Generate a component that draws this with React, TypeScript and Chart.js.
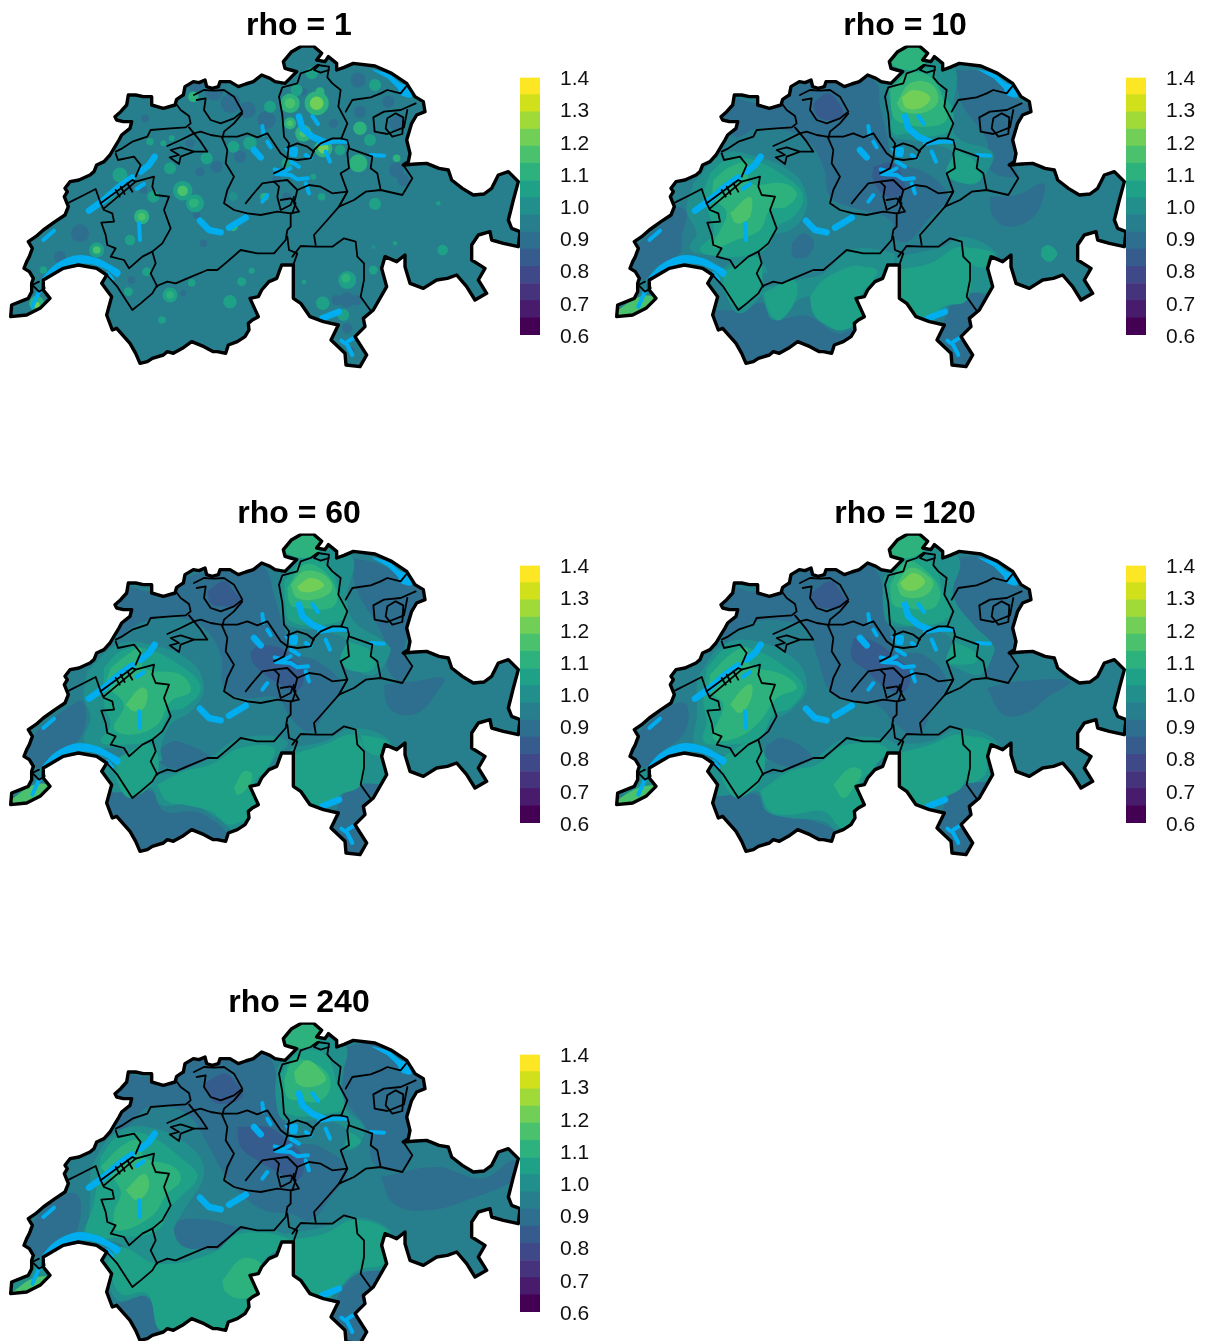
import React, { useEffect, useRef } from "react";
import { Chart, registerables } from "chart.js";

type Pt = number[];
type Band = [number, Pt[]];
type Spot = [number, number, number, number];

// Colour bar: 15 equal bands from 0.6 to 1.4
const viridis = ["#440154", "#481B6D", "#46337E", "#3F4889", "#365C8D", "#2E6E8E", "#277F8E", "#21908C", "#1FA187", "#2DB27D", "#4AC16D", "#71CF57", "#A0DA39", "#D0E11C", "#FDE725"];
const levelEdges = [0.6, 0.6533, 0.7067, 0.76, 0.8133, 0.8667, 0.92, 0.9733, 1.0267, 1.08, 1.1333, 1.1867, 1.24, 1.2933, 1.3467, 1.4];
// Contour id used in the band lists -> fill colour
const contourColors: Record<number, string> = { 4: "#365C8D", 5: "#2E6E8E", 6: "#2E6E8E", 7: "#277F8E", 8: "#21908C", 9: "#1FA187", 10: "#2DB27D", 11: "#4AC16D", 12: "#71CF57" };
const titles = ["rho = 1", "rho = 10", "rho = 60", "rho = 120", "rho = 240"];

// Map geometry in map units
const border: Pt[] = [[88, 715], [76, 695], [60, 685], [68, 665], [76, 650], [85, 625], [73, 605], [95, 590], [118, 570], [153, 545], [183, 525], [193, 500], [181, 470], [190, 455], [183, 445], [198, 425], [225, 420], [258, 405], [270, 395], [278, 375], [300, 365], [318, 345], [333, 320], [345, 300], [353, 285], [378, 265], [383, 245], [358, 245], [338, 240], [333, 230], [350, 215], [368, 195], [373, 165], [395, 165], [418, 170], [443, 170], [443, 195], [460, 200], [478, 205], [513, 195], [518, 178], [530, 170], [538, 165], [543, 140], [568, 125], [585, 128], [603, 120], [608, 140], [625, 145], [643, 140], [648, 125], [678, 125], [703, 140], [725, 132], [748, 125], [773, 105], [798, 115], [813, 125], [843, 130], [878, 95], [860, 90], [843, 85], [838, 65], [863, 35], [893, 18], [928, 18], [953, 40], [938, 60], [963, 65], [973, 50], [998, 70], [998, 90], [1020, 82], [1048, 70], [1113, 78], [1163, 100], [1208, 130], [1233, 170], [1258, 185], [1263, 215], [1238, 225], [1223, 250], [1208, 300], [1218, 340], [1213, 365], [1198, 375], [1235, 372], [1268, 370], [1305, 385], [1333, 390], [1343, 420], [1375, 445], [1408, 465], [1440, 462], [1463, 445], [1483, 405], [1513, 395], [1543, 425], [1528, 480], [1513, 540], [1523, 565], [1548, 575], [1543, 620], [1498, 610], [1463, 600], [1458, 575], [1423, 585], [1403, 615], [1403, 660], [1443, 685], [1423, 720], [1448, 760], [1413, 780], [1388, 740], [1358, 705], [1330, 715], [1298, 720], [1258, 745], [1218, 730], [1203, 680], [1203, 645], [1178, 665], [1143, 650], [1133, 685], [1148, 740], [1108, 810], [1078, 835], [1083, 860], [1053, 890], [1088, 945], [1068, 980], [1026, 975], [1023, 940], [981, 900], [1003, 855], [958, 845], [918, 830], [890, 790], [868, 775], [868, 675], [833, 675], [818, 715], [795, 725], [773, 750], [763, 770], [738, 775], [763, 830], [745, 840], [733, 850], [735, 870], [723, 890], [700, 905], [673, 915], [665, 940], [640, 935], [628, 935], [600, 920], [563, 905], [535, 925], [508, 940], [490, 935], [478, 945], [445, 955], [430, 965], [408, 970], [395, 940], [378, 910], [360, 890], [338, 865], [325, 870], [308, 825], [323, 770], [293, 730], [308, 705], [278, 685], [223, 675], [178, 685], [118, 720], [118, 750], [138, 775], [108, 805], [68, 825], [20, 830], [23, 795], [73, 775], [83, 755], [83, 730]];

const cantonLines: Pt[][] = [
  [[335, 335], [355, 325], [385, 305], [430, 290], [440, 270], [500, 265], [545, 262], [560, 250], [555, 228], [530, 210], [515, 190]],
  [[578, 180], [605, 175], [600, 210], [620, 240], [650, 250], [690, 235], [715, 215], [690, 170], [660, 150], [630, 152], [600, 150], [570, 165]],
  [[715, 220], [690, 250], [660, 275], [655, 295]],
  [[570, 280], [590, 275], [620, 285], [650, 290], [700, 290], [730, 280], [760, 292], [790, 280], [810, 310], [830, 340], [850, 355]],
  [[490, 318], [530, 300], [570, 280], [555, 262]],
  [[570, 280], [590, 305], [610, 335], [570, 335], [530, 322], [500, 330], [525, 345], [497, 352], [525, 372], [530, 350], [570, 335]],
  [[335, 340], [342, 360], [390, 350], [410, 375], [395, 410]],
  [[190, 490], [240, 465], [275, 447], [290, 490], [300, 510], [325, 520], [330, 545], [292, 548], [305, 585], [310, 615], [335, 625], [320, 650], [360, 660], [375, 685], [415, 650], [445, 635], [475, 610], [500, 565], [480, 510], [495, 470], [455, 465], [445, 440], [450, 410], [395, 425], [300, 505]],
  [[290, 490], [385, 420], [395, 425]],
  [[335, 450], [347, 470]],
  [[350, 440], [362, 462]],
  [[370, 430], [385, 455]],
  [[445, 635], [455, 670], [440, 700], [460, 740]],
  [[308, 705], [340, 740], [385, 810], [410, 790], [445, 760], [458, 738], [490, 725], [515, 730], [550, 715], [610, 690], [640, 690], [670, 665], [710, 630], [760, 640], [810, 640], [845, 600], [850, 570], [860, 560], [860, 520], [820, 515], [770, 525], [730, 520], [690, 510], [660, 490], [670, 450], [690, 410], [665, 370], [670, 330], [655, 295]],
  [[850, 590], [855, 630], [880, 640], [868, 675]],
  [[865, 650], [890, 618], [935, 620], [985, 620], [1020, 595], [1055, 605], [1060, 650], [1080, 670], [1080, 720], [1070, 770], [1100, 812]],
  [[935, 615], [930, 585], [970, 540], [1005, 500], [1030, 455], [985, 460], [950, 440], [915, 435], [880, 450], [870, 490], [885, 515], [860, 520]],
  [[725, 490], [745, 465], [775, 430], [810, 425], [825, 440], [820, 470], [830, 510], [860, 495], [870, 470]],
  [[830, 480], [860, 475], [875, 490], [865, 520]],
  [[810, 425], [850, 420], [880, 450]],
  [[850, 355], [855, 310], [840, 290], [835, 225], [825, 170], [835, 142], [880, 130], [890, 100], [920, 90], [940, 75], [975, 80], [970, 112], [985, 130], [1010, 150], [1003, 200], [1030, 250], [1012, 295], [985, 295], [950, 310], [930, 330], [920, 355], [880, 360], [850, 355]],
  [[850, 322], [880, 310], [910, 320], [930, 335]],
  [[850, 355], [840, 385], [810, 400]],
  [[1010, 295], [1030, 300], [1035, 320], [1030, 340], [1035, 385], [1010, 400], [1030, 455], [1005, 500], [1050, 480], [1085, 455], [1130, 450], [1195, 465], [1225, 415], [1198, 375]],
  [[1035, 325], [1105, 350], [1100, 385], [1120, 400], [1130, 450]],
  [[1025, 215], [1045, 180], [1100, 172], [1130, 160], [1150, 150], [1190, 160], [1210, 135]],
  [[1235, 190], [1190, 210], [1140, 215], [1108, 232], [1112, 275], [1150, 282], [1200, 262], [1210, 210]],
  [[1150, 235], [1175, 220], [1198, 232], [1195, 282], [1165, 290], [1145, 265], [1150, 235]],
  [[945, 75], [930, 90], [950, 98], [975, 90]],
  [[105, 725], [85, 735], [105, 755], [122, 745], [118, 725]],
];

const lakeAreas: Pt[][] = [
  [[110, 720], [140, 685], [175, 660], [225, 645], [280, 655], [320, 675], [350, 695], [340, 712], [310, 690], [260, 672], [205, 673], [160, 690], [125, 712]],
  [[1100, 88], [1150, 100], [1190, 130], [1215, 140], [1222, 172], [1190, 165], [1180, 145], [1150, 115]],
  [[840, 325], [880, 322], [878, 350], [860, 350]],
];
const lakeBroad: Pt[][] = [
  [[255, 512], [300, 480], [345, 440], [385, 412]],
  [[410, 395], [435, 375], [452, 350]],
  [[588, 542], [615, 570], [650, 577]],
  [[675, 563], [725, 533]],
  [[750, 330], [770, 352]],
  [[885, 230], [895, 265], [925, 290], [960, 305]],
  [[955, 835], [980, 825], [1005, 815]],
];
const lakeThin: Pt[][] = [
  [[85, 800], [105, 755]],
  [[118, 600], [150, 572]],
  [[405, 550], [408, 600]],
  [[398, 447], [420, 432]],
  [[790, 305], [800, 322]],
  [[775, 258], [778, 285]],
  [[812, 388], [840, 395], [860, 385]],
  [[815, 402], [860, 405], [880, 418], [912, 415]],
  [[905, 345], [920, 355]],
  [[860, 365], [885, 380]],
  [[905, 430], [915, 460]],
  [[775, 485], [790, 465]],
  [[925, 228], [942, 252]],
  [[945, 312], [990, 305], [1030, 305]],
  [[965, 335], [978, 365]],
  [[1100, 345], [1140, 347]],
  [[1012, 902], [1030, 915], [1045, 945]],
  [[1030, 905], [1050, 893]],
  [[310, 700], [325, 718]],
];

// Panel rho = 1: x, y, size, contour id
const spotsRho1: Spot[] = [
  [578, 130, 12, 6], [630, 155, 12, 6], [680, 190, 13, 6], [730, 210, 11, 6], [423, 235, 5, 6], [588, 395, 6, 6], [708, 350, 8, 6], [638, 380, 8, 6], [378, 440, 5, 6], [418, 450, 5, 6], [558, 310, 6, 6],
  [1063, 120, 10, 6], [788, 240, 12, 6], [898, 155, 5, 6], [988, 250, 6, 6], [1153, 185, 8, 6], [1068, 215, 8, 6], [1178, 390, 10, 5], [1198, 420, 8, 6], [1178, 250, 10, 6], [818, 420, 6, 5], [848, 470, 6, 6],
  [598, 610, 5, 6], [578, 525, 5, 6], [383, 720, 5, 6], [228, 580, 12, 6], [168, 650, 8, 6], [538, 760, 4, 6], [1028, 780, 10, 6], [998, 780, 7, 6], [1058, 780, 7, 6], [1030, 865, 7, 6], [1043, 930, 4, 5],
  [536, 452, 13, 9], [573, 490, 12, 9], [348, 405, 10, 9], [448, 470, 8, 9], [498, 385, 8, 9], [608, 355, 8, 9], [688, 320, 8, 9], [738, 310, 9, 9], [438, 305, 5, 9], [478, 310, 4, 9], [568, 170, 7, 10], [503, 295, 4, 9], [318, 470, 8, 8], [688, 470, 6, 8], [778, 470, 5, 9],
  [938, 190, 16, 10], [858, 190, 13, 10], [858, 250, 8, 10], [948, 155, 6, 10], [898, 280, 11, 10], [958, 325, 12, 10], [1068, 265, 9, 10], [1098, 300, 8, 9], [1113, 135, 8, 9], [1063, 370, 12, 10], [1178, 355, 5, 10], [923, 100, 8, 9], [878, 150, 8, 9], [798, 200, 8, 9], [1008, 330, 7, 9], [848, 370, 7, 9], [1113, 490, 7, 10], [783, 470, 5, 10], [953, 470, 5, 9], [928, 410, 4, 9],
  [278, 630, 10, 9], [413, 530, 10, 10], [378, 600, 7, 9], [118, 690, 5, 9], [98, 790, 10, 10], [678, 785, 9, 9], [498, 765, 10, 9], [373, 755, 6, 9], [428, 695, 6, 9], [474, 840, 5, 9], [713, 725, 6, 9], [743, 692, 4, 9], [563, 728, 5, 9], [688, 560, 6, 10], [568, 490, 6, 10],
  [1030, 720, 12, 9], [956, 790, 9, 9], [1018, 825, 8, 9], [1108, 690, 6, 9], [1113, 492, 8, 9], [1316, 630, 7, 9], [900, 725, 3, 9], [1108, 620, 3, 8], [1173, 610, 3, 9], [1303, 490, 3, 9],
  [536, 452, 7, 11], [573, 488, 5, 10], [938, 190, 9, 12], [858, 190, 7, 11], [858, 250, 4, 11], [958, 325, 7, 12], [898, 280, 5, 11], [1026, 715, 6, 10], [98, 795, 4, 12], [278, 630, 5, 11], [413, 530, 5, 11], [498, 765, 5, 10],
];

const bandsRho10: Band[] = [
  [6, [[340, 240], [370, 180], [450, 190], [540, 150], [610, 120], [760, 110], [800, 130], [810, 200], [830, 280], [840, 340], [850, 370], [930, 390], [1000, 440], [1010, 480], [960, 530], [900, 600], [860, 600], [840, 540], [760, 510], [720, 500], [660, 470], [640, 380], [590, 300], [520, 270], [440, 265], [380, 290]]],
  [6, [[50, 690], [80, 620], [180, 530], [200, 500], [230, 520], [215, 590], [210, 640], [140, 680], [100, 720]]],
  [6, [[1040, 90], [1130, 100], [1210, 170], [1270, 210], [1230, 260], [1210, 370], [1225, 410], [1140, 390], [1130, 300], [1060, 200], [1040, 130]]],
  [6, [[1140, 470], [1220, 465], [1300, 430], [1300, 470], [1270, 530], [1200, 560], [1150, 530]]],
  [6, [[290, 810], [380, 810], [460, 790], [490, 840], [550, 830], [600, 830], [680, 880], [730, 870], [670, 930], [640, 950], [420, 980], [340, 890]]],
  [6, [[1020, 800], [1080, 760], [1140, 780], [1090, 850], [1080, 990], [1000, 950], [990, 880]]],
  [6, [[545, 610], [580, 580], [612, 610], [590, 650], [550, 650]]],
  [8, [[250, 430], [340, 340], [440, 350], [550, 400], [590, 470], [580, 530], [540, 570], [480, 590], [450, 640], [470, 700], [330, 650], [260, 640], [240, 620], [260, 580], [230, 510]]],
  [8, [[450, 745], [560, 720], [640, 700], [720, 630], [850, 640], [850, 670], [790, 740], [770, 830], [720, 860], [660, 850], [610, 810], [600, 770], [550, 790], [490, 840], [460, 780]]],
  [8, [[860, 650], [1000, 620], [1060, 590], [1160, 640], [1130, 680], [1150, 750], [1080, 760], [1010, 800], [960, 840], [860, 780], [860, 700]]],
  [8, [[835, 140], [900, 80], [1000, 60], [1040, 100], [1030, 200], [1040, 290], [1140, 330], [1150, 360], [1100, 430], [1060, 430], [1010, 400], [1030, 340], [960, 310], [900, 300], [850, 290], [830, 230]]],
  [8, [[830, 70], [870, 20], [940, 10], [955, 60], [900, 95], [870, 95]]],
  [8, [[310, 700], [440, 640], [460, 740], [450, 770], [385, 820], [340, 750]]],
  [5, [[590, 160], [680, 150], [730, 200], [760, 280], [790, 300], [840, 340], [850, 400], [900, 450], [890, 510], [870, 580], [850, 520], [800, 500], [760, 440], [760, 380], [780, 340], [740, 290], [680, 280], [600, 240]]],
  [5, [[1100, 200], [1200, 190], [1210, 280], [1160, 295], [1110, 260]]],
  [5, [[130, 610], [160, 580], [190, 620], [170, 660], [140, 650]]],
  [4, [[610, 190], [650, 160], [680, 180], [700, 230], [650, 240], [620, 225]]],
  [4, [[790, 380], [850, 370], [880, 420], [880, 460], [830, 470], [790, 420]]],
  [9, [[600, 770], [640, 720], [720, 680], [760, 680], [800, 690], [790, 720], [750, 770], [770, 820], [700, 870], [640, 850], [610, 820]]],
  [9, [[860, 690], [960, 670], [1050, 620], [1080, 670], [1070, 780], [1000, 800], [950, 840], [860, 770]]],
  [9, [[1062, 620], [1150, 640], [1130, 680], [1080, 670]]],
  [9, [[1295, 625], [1315, 615], [1342, 640], [1320, 665], [1295, 650]]],
  [9, [[460, 760], [550, 720], [560, 770], [510, 840], [480, 820]]],
  [9, [[845, 210], [840, 140], [900, 90], [960, 90], [1000, 160], [1030, 220], [1020, 270], [950, 290], [900, 280], [850, 280]]],
  [9, [[300, 400], [350, 360], [430, 360], [540, 420], [580, 470], [550, 530], [500, 560], [480, 610], [440, 640], [340, 650], [270, 630], [310, 580], [300, 530], [280, 470]]],
  [9, [[350, 690], [440, 650], [450, 740], [385, 800], [340, 740]]],
  [9, [[1040, 330], [1100, 370], [1110, 420], [1060, 430], [1010, 400]]],
  [10, [[840, 150], [900, 100], [960, 110], [1000, 180], [1010, 240], [950, 260], [880, 250], [850, 230]]],
  [10, [[310, 420], [360, 380], [410, 370], [420, 430], [520, 430], [560, 460], [530, 500], [480, 510], [450, 570], [380, 600], [310, 620], [350, 520], [310, 470]]],
  [10, [[830, 70], [870, 20], [930, 15], [950, 60], [900, 90]]],
  [11, [[860, 190], [900, 130], [960, 130], [985, 180], [950, 215], [880, 215]]],
  [11, [[360, 520], [420, 470], [420, 530], [380, 550]]],
  [11, [[10, 820], [90, 770], [140, 775], [100, 815], [60, 835]]],
  [12, [[875, 172], [910, 150], [960, 170], [940, 200], [890, 205]]],
];

const bandsRho60: Band[] = [
  [6, [[340, 240], [370, 180], [440, 190], [540, 150], [620, 130], [760, 110], [790, 130], [810, 200], [840, 300], [860, 370], [940, 400], [1010, 470], [970, 540], [920, 610], [860, 570], [820, 510], [720, 510], [660, 480], [650, 380], [600, 300], [530, 270], [440, 275], [380, 300], [345, 330]]],
  [6, [[50, 690], [100, 610], [190, 540], [235, 520], [245, 580], [220, 640], [160, 680], [110, 720]]],
  [6, [[1040, 90], [1130, 110], [1210, 160], [1270, 210], [1220, 300], [1200, 380], [1225, 415], [1190, 460], [1150, 420], [1140, 330], [1060, 190]]],
  [6, [[1140, 470], [1230, 460], [1320, 450], [1300, 490], [1250, 550], [1190, 560], [1150, 530]]],
  [6, [[290, 790], [440, 790], [480, 850], [560, 850], [600, 860], [670, 920], [640, 950], [420, 980], [340, 890]]],
  [6, [[1020, 790], [1060, 760], [1150, 770], [1090, 820], [1080, 990], [1000, 950], [990, 880]]],
  [6, [[470, 660], [520, 640], [630, 700], [550, 725], [470, 705]]],
  [8, [[250, 430], [340, 350], [440, 350], [560, 400], [600, 480], [560, 550], [500, 590], [470, 660], [470, 700], [340, 660], [260, 660], [240, 630], [260, 570], [240, 510]]],
  [8, [[300, 720], [390, 700], [460, 740], [600, 700], [710, 630], [850, 640], [800, 710], [770, 830], [700, 910], [640, 870], [560, 830], [470, 830], [440, 780], [320, 790]]],
  [8, [[860, 660], [960, 640], [1050, 600], [1160, 640], [1135, 690], [1150, 760], [1060, 770], [1010, 800], [950, 840], [860, 780]]],
  [8, [[830, 150], [900, 80], [1000, 60], [1050, 100], [1030, 200], [1050, 280], [1140, 340], [1160, 370], [1110, 440], [1040, 420], [1010, 400], [1030, 340], [960, 310], [850, 290], [830, 240]]],
  [8, [[830, 70], [870, 20], [940, 10], [955, 60], [900, 95], [870, 95]]],
  [5, [[590, 160], [680, 150], [730, 200], [760, 280], [800, 300], [850, 350], [860, 400], [920, 470], [890, 520], [860, 540], [800, 490], [740, 430], [750, 360], [700, 290], [640, 275], [590, 240]]],
  [5, [[1100, 220], [1200, 170], [1230, 200], [1210, 270], [1170, 295], [1110, 270]]],
  [5, [[135, 590], [175, 585], [185, 630], [150, 620]]],
  [4, [[610, 190], [660, 160], [690, 190], [715, 230], [650, 235], [620, 225]]],
  [4, [[760, 350], [830, 360], [860, 390], [900, 430], [880, 490], [830, 470], [760, 420], [740, 380]]],
  [9, [[300, 420], [350, 370], [420, 360], [540, 420], [590, 480], [540, 540], [500, 550], [470, 610], [440, 640], [330, 650], [290, 640], [320, 590], [300, 530]]],
  [9, [[340, 690], [440, 650], [460, 740], [380, 810], [340, 760]]],
  [9, [[460, 770], [540, 730], [620, 710], [710, 660], [810, 660], [790, 720], [750, 770], [770, 830], [680, 890], [620, 850], [540, 830], [490, 820]]],
  [9, [[860, 680], [960, 650], [1050, 620], [1080, 670], [1070, 770], [1010, 800], [950, 840], [860, 770]]],
  [9, [[1070, 620], [1150, 640], [1130, 680], [1090, 670]]],
  [9, [[840, 160], [900, 100], [970, 110], [1010, 200], [1030, 260], [960, 290], [860, 280], [845, 230]]],
  [9, [[1030, 340], [1100, 370], [1110, 420], [1050, 430], [1010, 400]]],
  [10, [[320, 420], [370, 380], [410, 360], [420, 420], [530, 440], [560, 490], [500, 520], [460, 590], [380, 620], [330, 600], [360, 530], [310, 470]]],
  [10, [[850, 180], [900, 110], [960, 130], [1000, 200], [980, 240], [900, 240], [860, 230]]],
  [10, [[690, 780], [720, 730], [745, 740], [730, 780], [700, 800]]],
  [10, [[830, 70], [870, 20], [930, 15], [950, 60], [900, 90]]],
  [11, [[860, 170], [900, 130], [960, 140], [985, 180], [950, 210], [880, 210]]],
  [11, [[365, 530], [410, 480], [430, 490], [420, 540], [390, 550]]],
  [11, [[15, 820], [90, 770], [140, 775], [100, 815], [60, 835]]],
  [12, [[880, 175], [920, 150], [960, 170], [930, 190], [890, 190]]],
];

const bandsRho120: Band[] = [
  [6, [[330, 240], [360, 180], [440, 190], [540, 140], [620, 130], [760, 105], [800, 130], [820, 200], [840, 310], [860, 370], [940, 380], [1010, 460], [970, 540], [920, 620], [860, 590], [800, 530], [720, 520], [660, 490], [620, 380], [590, 300], [530, 280], [440, 280], [380, 310], [345, 340]]],
  [6, [[55, 690], [90, 610], [190, 530], [230, 530], [225, 610], [160, 670], [100, 720]]],
  [6, [[1030, 90], [1120, 90], [1210, 160], [1270, 220], [1230, 300], [1205, 380], [1225, 415], [1190, 460], [1130, 440], [1120, 340], [1030, 220], [1030, 160]]],
  [6, [[1130, 480], [1230, 460], [1380, 460], [1310, 510], [1250, 555], [1180, 560]]],
  [6, [[290, 790], [440, 800], [470, 850], [560, 870], [610, 880], [690, 920], [640, 960], [420, 980], [340, 890]]],
  [6, [[1010, 810], [1060, 770], [1150, 770], [1100, 820], [1080, 990], [1000, 950], [990, 880]]],
  [6, [[470, 650], [520, 630], [610, 690], [570, 720], [470, 690]]],
  [8, [[260, 450], [340, 350], [440, 340], [560, 400], [590, 480], [550, 540], [480, 590], [450, 650], [470, 700], [340, 680], [260, 660], [250, 630], [260, 570]]],
  [8, [[300, 720], [390, 700], [460, 740], [600, 700], [710, 630], [860, 650], [800, 710], [770, 830], [700, 920], [640, 880], [540, 870], [470, 850], [440, 790], [310, 800]]],
  [8, [[850, 650], [960, 640], [1050, 600], [1160, 640], [1135, 690], [1150, 750], [1060, 770], [1000, 810], [950, 840], [850, 780]]],
  [8, [[820, 150], [900, 70], [1000, 60], [1050, 100], [1030, 200], [1090, 290], [1150, 350], [1150, 380], [1110, 440], [1040, 420], [1010, 400], [1030, 340], [960, 300], [840, 290], [820, 240]]],
  [8, [[815, 70], [860, 20], [930, 10], [945, 60], [890, 100], [860, 95]]],
  [8, [[40, 800], [85, 720], [140, 775], [100, 815], [60, 835]]],
  [5, [[590, 170], [660, 150], [720, 210], [770, 280], [810, 310], [850, 360], [900, 430], [920, 470], [890, 520], [860, 530], [790, 480], [720, 420], [720, 340], [690, 290], [640, 260], [590, 240]]],
  [5, [[1100, 220], [1180, 170], [1230, 200], [1200, 270], [1170, 295], [1110, 270]]],
  [5, [[120, 590], [150, 575], [150, 610], [120, 610]]],
  [4, [[600, 200], [660, 160], [690, 190], [710, 230], [640, 240], [610, 225]]],
  [4, [[730, 330], [790, 340], [860, 390], [900, 430], [885, 490], [830, 480], [760, 420], [725, 390]]],
  [9, [[290, 420], [350, 360], [420, 360], [530, 420], [580, 480], [540, 540], [490, 560], [460, 620], [440, 640], [330, 650], [280, 640], [290, 580], [280, 520]]],
  [9, [[330, 690], [440, 640], [460, 740], [385, 810], [340, 760]]],
  [9, [[450, 790], [540, 730], [620, 710], [710, 650], [830, 660], [790, 720], [750, 770], [770, 830], [700, 900], [640, 850], [540, 860], [480, 850]]],
  [9, [[850, 680], [960, 650], [1050, 620], [1070, 670], [1060, 770], [1000, 810], [950, 840], [850, 770]]],
  [9, [[1060, 620], [1140, 640], [1130, 680], [1125, 740], [1070, 760]]],
  [9, [[830, 160], [890, 80], [970, 110], [1000, 200], [1020, 260], [960, 290], [850, 280], [835, 230]]],
  [9, [[1030, 340], [1090, 370], [1100, 400], [1050, 410], [1010, 400]]],
  [10, [[300, 440], [360, 380], [410, 360], [420, 410], [520, 440], [560, 480], [500, 510], [450, 580], [380, 630], [310, 630], [340, 530], [300, 490]]],
  [10, [[840, 170], [890, 100], [950, 130], [990, 190], [970, 240], [890, 240], [850, 230]]],
  [10, [[670, 770], [720, 720], [755, 730], [730, 780], [700, 810]]],
  [10, [[815, 70], [860, 20], [930, 15], [945, 60], [890, 90]]],
  [11, [[860, 170], [900, 120], [950, 140], [970, 170], [940, 205], [880, 205]]],
  [11, [[360, 530], [400, 480], [425, 470], [420, 520], [390, 555]]],
  [11, [[15, 820], [85, 780], [135, 775], [100, 815], [60, 835]]],
  [12, [[870, 165], [910, 135], [945, 160], [920, 185], [885, 185]]],
];

const bandsRho240: Band[] = [
  [6, [[330, 225], [360, 170], [430, 180], [540, 120], [620, 120], [760, 105], [800, 125], [820, 200], [840, 290], [860, 370], [950, 390], [1030, 460], [980, 540], [920, 610], [860, 590], [780, 580], [700, 520], [660, 470], [610, 380], [560, 300], [500, 270], [430, 270], [380, 320], [345, 340]]],
  [6, [[55, 690], [90, 610], [190, 530], [225, 540], [225, 620], [190, 680], [110, 720]]],
  [6, [[1020, 90], [1110, 80], [1210, 140], [1270, 210], [1240, 290], [1205, 380], [1225, 415], [1190, 460], [1110, 440], [1090, 340], [1020, 240], [1020, 160]]],
  [6, [[1130, 480], [1300, 450], [1400, 480], [1450, 480], [1530, 430], [1540, 480], [1400, 545], [1270, 580], [1170, 560]]],
  [6, [[340, 850], [430, 840], [465, 930], [440, 980], [410, 980], [360, 890]]],
  [6, [[1010, 820], [1060, 770], [1150, 760], [1100, 830], [1080, 990], [1000, 950], [990, 880]]],
  [6, [[505, 640], [530, 610], [620, 610], [700, 630], [800, 650], [700, 650], [640, 700], [540, 690]]],
  [8, [[260, 450], [330, 350], [430, 330], [560, 390], [600, 470], [540, 580], [510, 640], [540, 690], [640, 700], [440, 750], [350, 680], [240, 660], [255, 600]]],
  [8, [[300, 730], [350, 690], [460, 740], [640, 700], [710, 640], [860, 660], [800, 710], [770, 830], [720, 900], [660, 950], [560, 920], [470, 940], [430, 840], [340, 850]]],
  [8, [[850, 650], [960, 630], [1050, 600], [1160, 640], [1135, 690], [1150, 750], [1060, 770], [1000, 820], [950, 860], [850, 780]]],
  [8, [[820, 150], [900, 70], [1000, 70], [1030, 100], [1010, 200], [1030, 280], [1080, 330], [1060, 390], [1020, 395], [1030, 340], [960, 310], [840, 310], [815, 240]]],
  [8, [[825, 70], [870, 20], [940, 15], [955, 60], [900, 100], [870, 95]]],
  [8, [[10, 830], [80, 750], [140, 775], [100, 815], [60, 835]]],
  [5, [[590, 170], [660, 150], [710, 210], [770, 280], [820, 310], [860, 380], [900, 440], [930, 490], [880, 530], [850, 530], [780, 490], [700, 410], [690, 320], [640, 290], [590, 240]]],
  [5, [[1100, 220], [1130, 150], [1200, 170], [1240, 200], [1200, 280], [1150, 295], [1110, 270]]],
  [4, [[600, 200], [660, 170], [690, 190], [715, 240], [640, 260], [610, 225]]],
  [4, [[700, 330], [790, 330], [850, 370], [900, 430], [880, 490], [830, 470], [760, 430], [710, 390]]],
  [9, [[290, 420], [340, 360], [420, 350], [540, 430], [580, 480], [530, 540], [500, 570], [460, 640], [360, 660], [250, 650], [270, 560]]],
  [9, [[310, 740], [350, 690], [460, 740], [620, 710], [710, 650], [860, 670], [790, 720], [750, 770], [770, 830], [720, 900], [660, 950], [570, 920], [470, 940], [430, 830], [350, 830]]],
  [9, [[850, 670], [960, 650], [1050, 610], [1150, 640], [1130, 680], [1140, 740], [1060, 760], [1000, 820], [950, 860], [850, 780]]],
  [9, [[825, 180], [880, 110], [960, 110], [1000, 200], [1020, 270], [970, 290], [850, 290], [830, 230]]],
  [9, [[1030, 340], [1070, 370], [1060, 385], [1030, 390]]],
  [10, [[290, 450], [350, 390], [400, 370], [420, 420], [510, 450], [530, 490], [490, 530], [440, 600], [340, 640], [330, 590], [350, 520]]],
  [10, [[655, 790], [715, 725], [775, 745], [765, 820], [715, 845], [665, 825]]],
  [10, [[840, 190], [870, 130], [950, 150], [980, 200], [950, 250], [880, 250], [850, 240]]],
  [10, [[825, 70], [870, 20], [930, 20], [950, 60], [900, 95]]],
  [11, [[870, 165], [910, 130], [950, 160], [965, 190], [920, 210], [880, 200]]],
  [11, [[365, 520], [420, 470], [435, 510], [400, 550]]],
  [11, [[25, 825], [85, 785], [135, 780], [100, 815], [60, 835]]],
];

const panels: { bands: Band[]; spots: Spot[] }[] = [
  { bands: [], spots: spotsRho1 },
  { bands: bandsRho10, spots: [] },
  { bands: bandsRho60, spots: [] },
  { bands: bandsRho120, spots: [] },
  { bands: bandsRho240, spots: [] },
];
const panelOrigins = [[0, 0], [606, 0], [0, 488], [606, 488], [0, 977]];
const BASE_CONTOUR = 7;
const LAKE = "#00AEEF";

// Must be registered before Filler so the clip also holds the area fills.
const outlineClip = {
  id: "outlineClip",
  beforeDatasetDraw(chart: any, args: any) {
    if (!chart.data.datasets[args.index]?.clipToOutline) return;
    const { ctx, scales } = chart;
    ctx.save();
    ctx.beginPath();
    border.forEach((p, i) => {
      const x = scales.x.getPixelForValue(p[0]);
      const y = scales.y.getPixelForValue(p[1]);
      if (i === 0) ctx.moveTo(x, y);
      else ctx.lineTo(x, y);
    });
    ctx.closePath();
    ctx.clip();
  },
  afterDatasetDraw(chart: any, args: any) {
    if (chart.data.datasets[args.index]?.clipToOutline) chart.ctx.restore();
  },
};
Chart.register(outlineClip);
Chart.register(...registerables);

const xy = (pts: Pt[]) => pts.map((p) => ({ x: p[0], y: p[1] }));

function mapDatasets(bands: Band[], spots: Spot[]) {
  const out: any[] = [];
  const shape = (pts: Pt[], color: string, tension: number, clip: boolean) =>
    out.push({ type: "scatter", showLine: true, data: xy(pts), fill: "shape", backgroundColor: color, borderColor: color, borderWidth: 0, pointRadius: 0, tension, clipToOutline: clip });
  const stroke = (pts: Pt[], color: string, width: number) =>
    out.push({ type: "scatter", showLine: true, data: xy(pts), fill: false, borderColor: color, borderWidth: width, borderCapStyle: "round", borderJoinStyle: "round", pointRadius: 0, tension: 0 });

  shape(border, contourColors[BASE_CONTOUR], 0, false);
  bands.forEach(([id, pts]) => shape([...pts, pts[0]], contourColors[id], 0.4, true));
  spots.forEach(([x, y, r, id]) =>
    out.push({ type: "bubble", data: [{ x, y, r: r * 0.75 }], backgroundColor: contourColors[id], borderWidth: 0, clipToOutline: true })
  );
  lakeAreas.forEach((pts) => shape(pts, LAKE, 0.3, false));
  lakeBroad.forEach((pts) => stroke(pts, LAKE, 6.5));
  lakeThin.forEach((pts) => stroke(pts, LAKE, 4));
  cantonLines.forEach((pts) => stroke(pts, "#000000", 1.8));
  stroke([...border, border[0]], "#000000", 3.4);
  return out.map((d, i) => ({ ...d, order: out.length - i }));
}

function Panel({ index }: { index: number }) {
  const mapRef = useRef<HTMLCanvasElement>(null);
  const barRef = useRef<HTMLCanvasElement>(null);
  const [ox, oy] = panelOrigins[index];

  useEffect(() => {
    const map = new Chart(mapRef.current!, {
      type: "scatter",
      data: { datasets: mapDatasets(panels[index].bands, panels[index].spots) },
      options: {
        animation: false,
        responsive: false,
        devicePixelRatio: 1,
        layout: { padding: 0, autoPadding: false },
        plugins: {
          legend: { display: false },
          tooltip: { enabled: false },
          title: {
            display: true,
            text: titles[index],
            color: "#000000",
            font: { family: "'Liberation Sans'", size: 32, weight: "bold", lineHeight: 1.2 },
            padding: { top: 7, bottom: 0 },
          },
        },
        scales: {
          x: { type: "linear", display: false, min: -12, max: 1782 },
          y: { type: "linear", display: false, reverse: true, min: 16.2, max: 1140 },
        },
      },
    } as any);

    const bar = new Chart(barRef.current!, {
      type: "bar",
      data: {
        labels: ["level"],
        datasets: viridis.map((c, i) => ({
          data: [[levelEdges[i], levelEdges[i + 1]]],
          backgroundColor: c,
          borderWidth: 0,
          barPercentage: 1,
          categoryPercentage: 1,
          grouped: false,
        })),
      },
      options: {
        animation: false,
        responsive: false,
        devicePixelRatio: 1,
        layout: { padding: { top: 17.5, bottom: 25, left: 0, right: 0 }, autoPadding: false },
        plugins: { legend: { display: false }, tooltip: { enabled: false }, title: { display: false } },
        scales: {
          x: { display: false },
          y: {
            position: "right",
            min: 0.6,
            max: 1.4,
            afterFit: (s: any) => { s.width = 55; s.paddingTop = 0; s.paddingBottom = 0; },
            grid: { display: false, drawTicks: false },
            border: { display: false },
            ticks: {
              stepSize: 0.1,
              padding: 20,
              color: "#111111",
              font: { family: "'Liberation Sans'", size: 21, lineHeight: "4px" },
              // The empty first line sets each label 2px below its tick, as in the reference.
              callback: (v: any) => ["", Number(v).toFixed(1)],
            },
          },
        },
      },
    } as any);
    return () => { map.destroy(); bar.destroy(); };
  }, [index]);

  return (
    <>
      <canvas ref={mapRef} width={598} height={420} style={{ position: "absolute", left: ox, top: oy, display: "block" }} />
      <canvas ref={barRef} width={75} height={300} style={{ position: "absolute", left: ox + 520, top: oy + 60, display: "block" }} />
    </>
  );
}

export default function App() {
  return (
    <div style={{ position: "absolute", left: 0, top: 0, width: 1206, height: 1341, overflow: "hidden", background: "#ffffff" }}>
      {panels.map((_, i) => <Panel key={i} index={i} />)}
    </div>
  );
}
